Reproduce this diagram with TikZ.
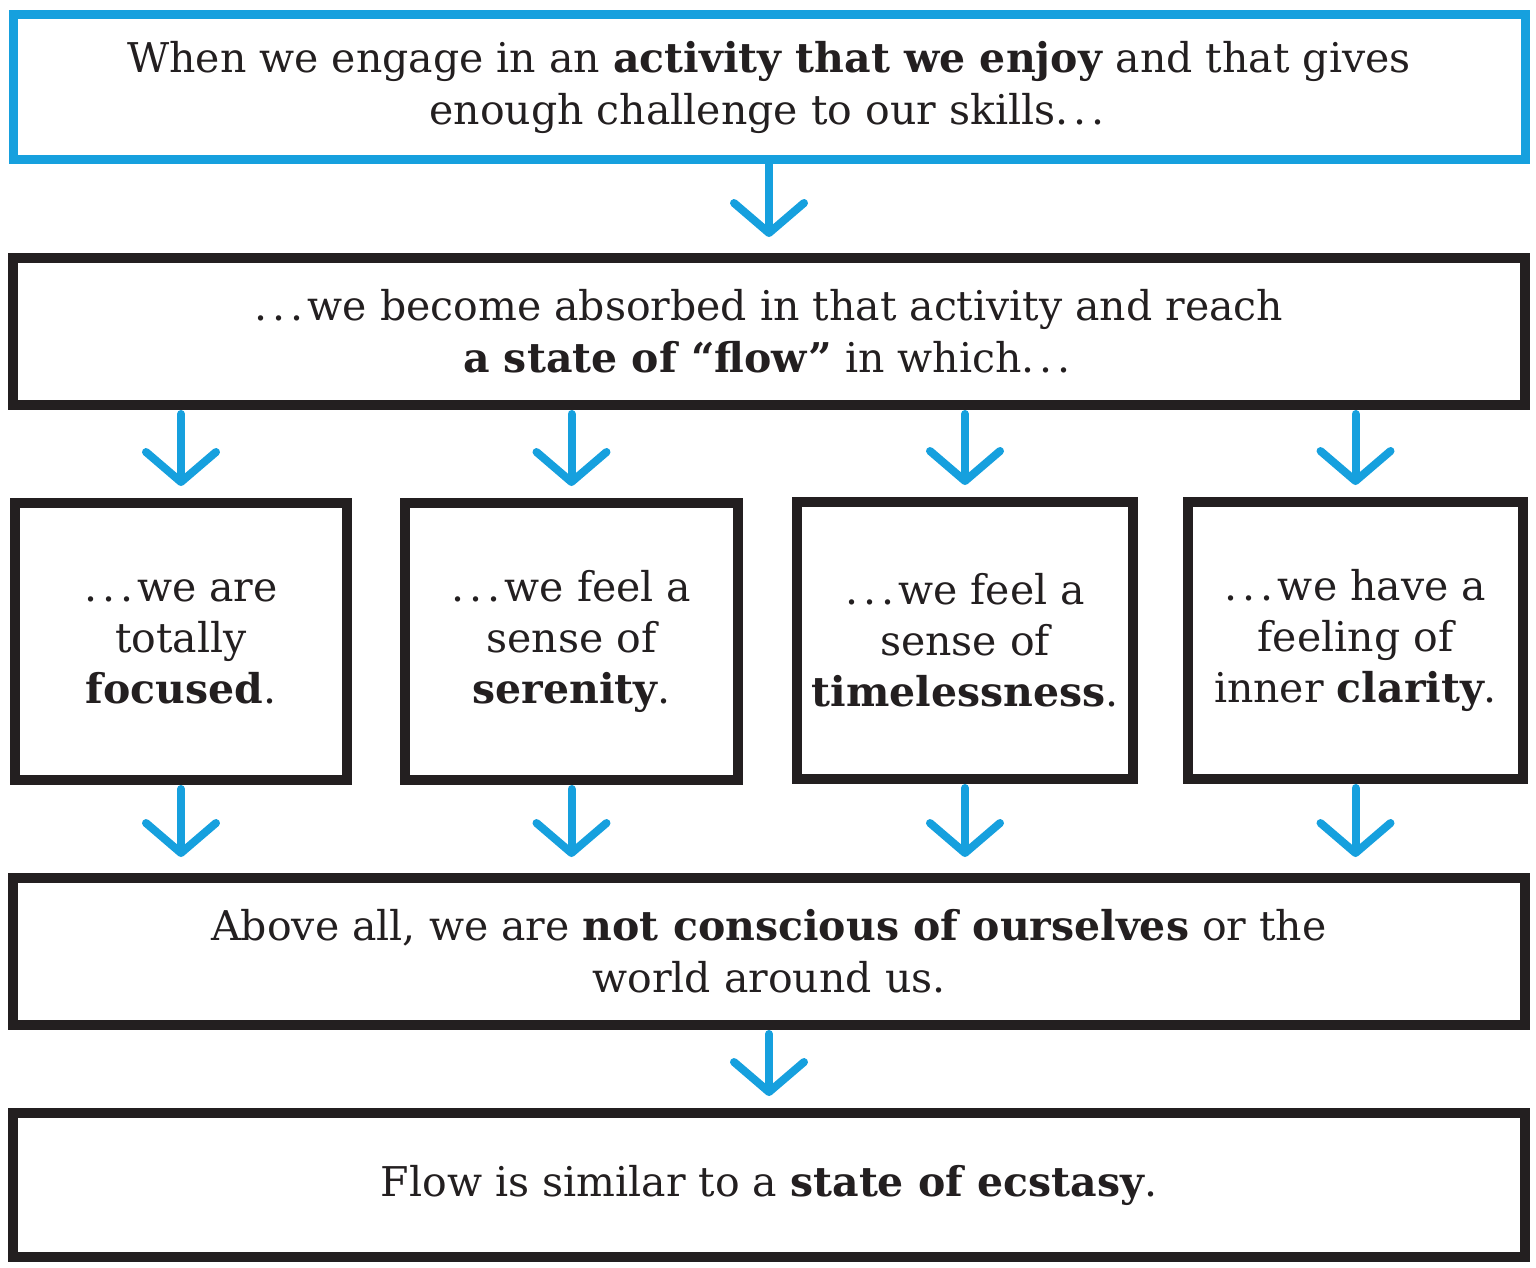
\documentclass[tikz,border=0pt]{standalone}
\usepackage{fontspec}
\setmainfont{DejaVu Serif}
\usetikzlibrary{arrows.meta,decorations.pathmorphing}
\definecolor{flowblue}{RGB}{22,160,222}
\definecolor{ink}{RGB}{35,31,32}
\newcommand{\myell}{.\kern0.12em.\kern0.12em.\kern0.1em}
\begin{document}
\begin{tikzpicture}[x=1pt,y=-1pt,
  bigbox/.style={draw=ink,line width=10pt,rectangle,inner sep=0pt,align=center,text=ink,
    font=\fontsize{41}{52}\selectfont,minimum width=1512pt},
  smallbox/.style={draw=ink,line width=10pt,rectangle,inner sep=0pt,align=center,text=ink,
    font=\fontsize{41}{51}\selectfont,minimum height=277pt},
  flowarrow/.style={draw=flowblue,line width=8pt,line cap=round,
    -{Straight Barb[length=30pt,width=70pt,round]}}
]
\useasboundingbox (0,0) rectangle (1536,1267);
\node[bigbox,draw=flowblue,line width=9pt,minimum height=145pt] (b1) at (769,87)
  {When we engage in an \textbf{activity that we enjoy} and that gives\\ enough challenge to our skills\myell};
\node[bigbox,minimum height=147pt] (b2) at (769,331.5)
  {\myell we become absorbed in that activity and reach\\ \textbf{a state of “flow”} in which\myell};
\node[smallbox,minimum width=332pt] (fa) at (181,641.5)
  {\myell we are\\ totally\\ \textbf{focused}.};
\node[smallbox,minimum width=333pt] (fb) at (571.5,641.5)
  {\myell we feel a\\ sense of\\ \textbf{serenity}.};
\node[smallbox,minimum width=336pt] (fc) at (965,640.5)
  {\myell we feel a\\ sense of\\ \textbf{timelessness}.};
\node[smallbox,minimum width=335pt] (fd) at (1355.5,640.5)
  {\myell we have a\\ feeling of\\ inner \textbf{clarity}.};
\node[bigbox,minimum height=147pt] (b5) at (769,951.5)
  {Above all, we are \textbf{not conscious of ourselves} or the\\ world around us.};
\node[bigbox,minimum height=144pt] (b6) at (769,1185)
  {Flow is similar to a \textbf{state of ecstasy}.};
\draw[flowarrow,shorten >=16pt] (b1.south) -- (b2.north);
\foreach \n in {fa,fb,fc,fd}{
  \draw[flowarrow,shorten >=12pt,shorten <=4pt] (\n.north |- b2.south) -- (\n.north);
  \draw[flowarrow,shorten >=16pt,shorten <=4pt] (\n.south) -- (\n.south |- b5.north);
}
\draw[flowarrow,shorten >=12pt,shorten <=4pt] (b5.south) -- (b6.north);
\end{tikzpicture}
\end{document}
